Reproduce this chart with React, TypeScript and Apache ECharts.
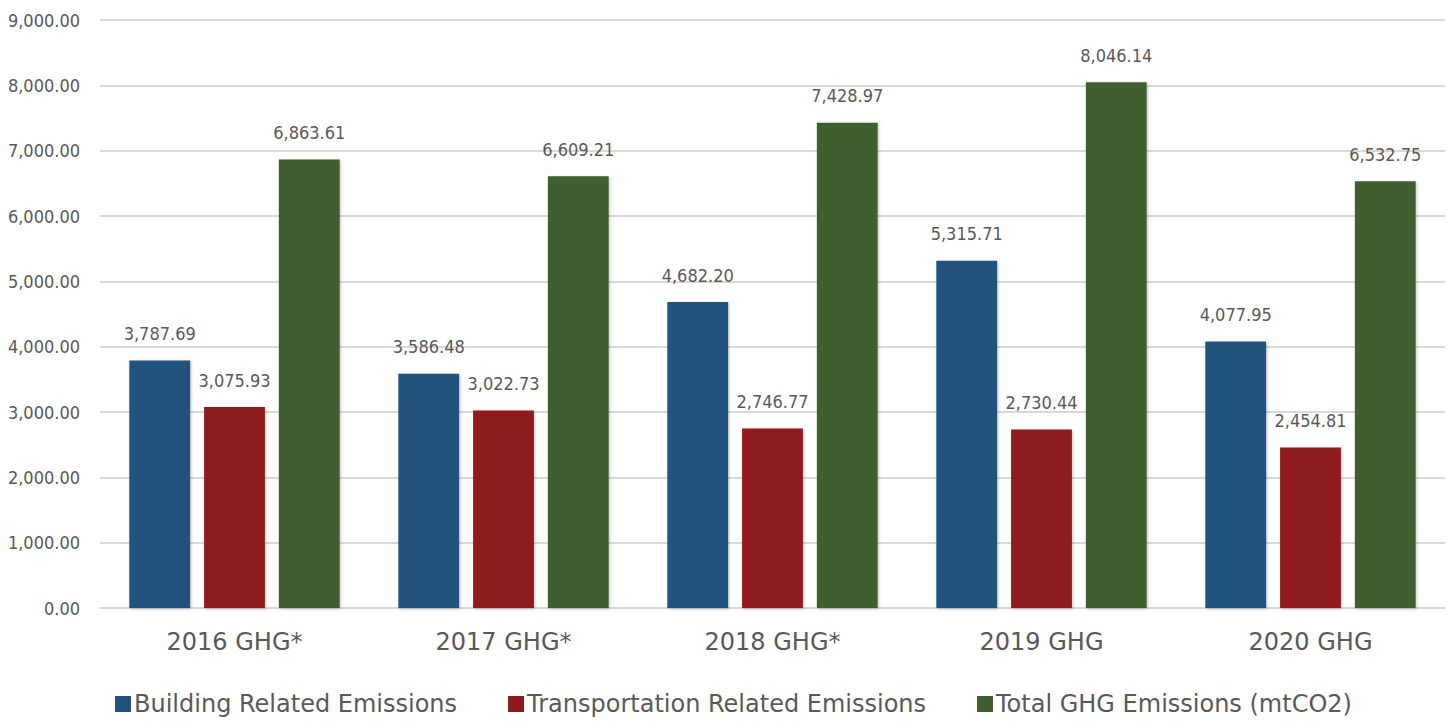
import React, { useEffect, useRef } from "react";
import * as echarts from "echarts";

const categories = ["2016 GHG*", "2017 GHG*", "2018 GHG*", "2019 GHG", "2020 GHG"];
const building = [3787.69, 3586.48, 4682.2, 5315.71, 4077.95];
const transport = [3075.93, 3022.73, 2746.77, 2730.44, 2454.81];
const total = [6863.61, 6609.21, 7428.97, 8046.14, 6532.75];
const seriesNames = [
  "Building Related Emissions",
  "Transportation Related Emissions",
  "Total GHG Emissions (mtCO2)",
];
const colors = ["#22527F", "#8E1A1E", "#3F5E2D"];

const fmt = (v: number) =>
  v.toLocaleString("en-US", { minimumFractionDigits: 2, maximumFractionDigits: 2 });

const narrow = "'Liberation Sans Narrow', 'DejaVu Sans Condensed', 'Liberation Sans', sans-serif";
const wide = "'DejaVu Sans', 'Noto Sans', sans-serif";

export default function App() {
  const ref = useRef<HTMLDivElement>(null);
  useEffect(() => {
    if (!ref.current) return;
    const chart = echarts.init(ref.current, null, { renderer: "svg" });
    const data = [building, transport, total];
    chart.setOption({
      animation: false,
      backgroundColor: "#ffffff",
      grid: { left: 100, right: 3, top: 20, bottom: 113, containLabel: false },
      legend: {
        bottom: 0,
        left: 110,
        itemWidth: 16,
        itemHeight: 16,
        itemGap: 51,
        icon: "rect",
        textStyle: { fontSize: 24, color: "#595959", fontFamily: wide, padding: [0, 0, 0, -2] },
        data: seriesNames,
      },
      xAxis: {
        type: "category",
        data: categories,
        axisLine: { lineStyle: { color: "#D9D9D9", width: 2 } },
        axisTick: { show: false },
        axisLabel: { fontSize: 24, color: "#595959", fontFamily: wide, margin: 22 },
      },
      yAxis: {
        type: "value",
        min: 0,
        max: 9000,
        interval: 1000,
        axisLine: { show: false },
        axisTick: { show: false },
        splitLine: { lineStyle: { color: "#D9D9D9", width: 2 } },
        axisLabel: {
          fontSize: 18,
          color: "#595959",
          fontFamily: narrow,
          margin: 20,
          formatter: (v: number) => fmt(v),
        },
      },
      series: seriesNames.map((name, i) => ({
        name,
        type: "bar",
        data: data[i],
        barWidth: "22.6%",
        barGap: "23%",
        barCategoryGap: "22%",
        itemStyle: {
          color: colors[i],
          shadowBlur: 3,
          shadowColor: "rgba(0,0,0,0.25)",
          shadowOffsetY: 1,
          shadowOffsetX: 1,
        },
        label: {
          show: true,
          position: "top",
          distance: 18,
          fontSize: 18,
          color: "#595959",
          fontFamily: narrow,
          formatter: (p: any) => fmt(p.value),
        },
      })),
    });
    return () => chart.dispose();
  }, []);
  return (
    <div
      ref={ref}
      style={{ position: "absolute", left: 0, top: 0, width: 1448, height: 721 }}
    />
  );
}
